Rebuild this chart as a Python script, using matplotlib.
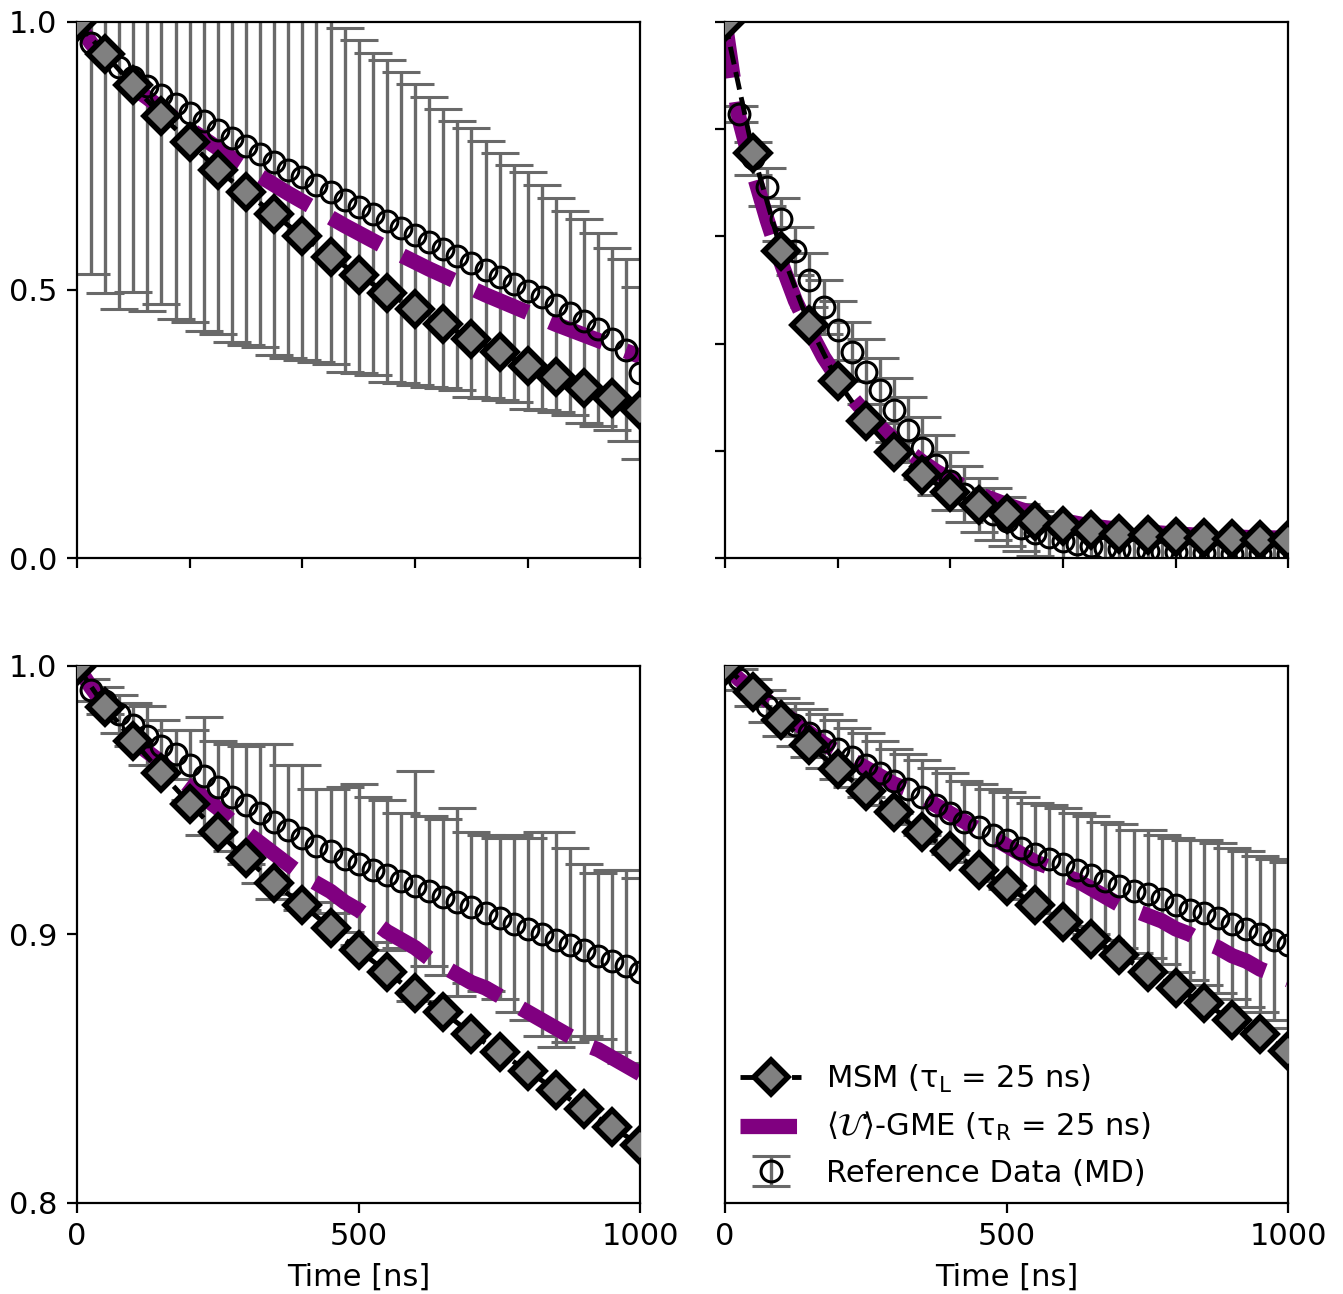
import numpy as np
import matplotlib
matplotlib.use("Agg")
import matplotlib.pyplot as plt

# time grids [ns]
t_msm = np.arange(0, 1001, 50)
t_ref = np.arange(25, 1001, 25)
t_gme = np.arange(0, 1001, 25)

# top left
msm_tl = [1.0, 0.939, 0.881, 0.825, 0.775, 0.724, 0.682, 0.641, 0.600, 0.562, 0.527,
          0.495, 0.464, 0.436, 0.408, 0.384, 0.359, 0.337, 0.317, 0.298, 0.277]
gme_tl = [1.000, 0.960, 0.930, 0.900, 0.877, 0.858, 0.838, 0.818, 0.800, 0.782, 0.764,
          0.746, 0.729, 0.712, 0.696, 0.680, 0.665, 0.650, 0.635, 0.620, 0.606,
          0.592, 0.578, 0.565, 0.552, 0.539, 0.527, 0.515, 0.503, 0.491, 0.480,
          0.469, 0.458, 0.447, 0.436, 0.426, 0.416, 0.406, 0.396, 0.386, 0.376]
ref_tl = [0.960, 0.935, 0.915, 0.897, 0.880, 0.863, 0.846, 0.830, 0.814, 0.798,
          0.783, 0.768, 0.753, 0.738, 0.724, 0.710, 0.696, 0.682, 0.668, 0.655,
          0.642, 0.629, 0.616, 0.603, 0.590, 0.577, 0.564, 0.551, 0.538, 0.525,
          0.512, 0.499, 0.486, 0.472, 0.458, 0.443, 0.427, 0.409, 0.388, 0.345]
err_tl = [0.43, 0.44, 0.45, 0.40, 0.42, 0.39, 0.40, 0.39, 0.39, 0.38,
          0.38, 0.37, 0.36, 0.36, 0.35, 0.34, 0.33, 0.32, 0.32, 0.31,
          0.30, 0.30, 0.29, 0.28, 0.27, 0.26, 0.25, 0.25, 0.24, 0.23,
          0.22, 0.22, 0.21, 0.20, 0.19, 0.19, 0.18, 0.17, 0.17, 0.16]

# top right
msm_tr = [1.0, 0.755, 0.572, 0.434, 0.330, 0.255, 0.198, 0.155, 0.123, 0.100, 0.082,
          0.070, 0.060, 0.052, 0.046, 0.043, 0.040, 0.038, 0.036, 0.035, 0.034]
gme_tr = [1.000, 0.820, 0.720, 0.630, 0.550, 0.480, 0.425, 0.375, 0.335, 0.300, 0.270,
          0.245, 0.222, 0.200, 0.180, 0.162, 0.147, 0.133, 0.120, 0.110, 0.100,
          0.091, 0.083, 0.076, 0.070, 0.065, 0.060, 0.057, 0.054, 0.051, 0.049,
          0.047, 0.045, 0.044, 0.042, 0.041, 0.040, 0.039, 0.038, 0.038, 0.037]
ref_tr = [0.828, 0.745, 0.692, 0.632, 0.572, 0.518, 0.468, 0.425, 0.385, 0.348,
          0.313, 0.276, 0.240, 0.206, 0.174, 0.145, 0.120, 0.100, 0.083, 0.069,
          0.057, 0.047, 0.039, 0.032, 0.027, 0.023, 0.020, 0.017, 0.015, 0.013,
          0.012, 0.011, 0.010, 0.010, 0.009, 0.009, 0.008, 0.008, 0.008, 0.008]
err_tr = [0.015, 0.030, 0.035, 0.040, 0.045, 0.050, 0.050, 0.055, 0.055, 0.060,
          0.060, 0.060, 0.060, 0.058, 0.056, 0.054, 0.052, 0.050, 0.048, 0.046,
          0.044, 0.042, 0.040, 0.038, 0.036, 0.034, 0.033, 0.032, 0.031, 0.030,
          0.029, 0.028, 0.028, 0.027, 0.027, 0.026, 0.026, 0.026, 0.025, 0.025]

# bottom left
msm_bl = [1.0, 0.9847, 0.972, 0.960, 0.9487, 0.938, 0.9284, 0.919, 0.911, 0.9023, 0.894,
          0.886, 0.878, 0.871, 0.863, 0.856, 0.849, 0.842, 0.835, 0.828, 0.8215]
gme_bl = [1.000, 0.992, 0.985, 0.978, 0.972, 0.968, 0.964, 0.959, 0.955, 0.951, 0.947,
          0.942, 0.938, 0.934, 0.930, 0.926, 0.922, 0.919, 0.916, 0.912, 0.909,
          0.905, 0.901, 0.898, 0.895, 0.891, 0.888, 0.885, 0.882, 0.880, 0.877,
          0.874, 0.871, 0.868, 0.865, 0.862, 0.859, 0.857, 0.854, 0.851, 0.848]
ref_bl = [0.991, 0.987, 0.982, 0.978, 0.974, 0.970, 0.967, 0.963, 0.959, 0.955,
          0.951, 0.948, 0.945, 0.942, 0.939, 0.936, 0.933, 0.931, 0.928, 0.926,
          0.924, 0.922, 0.920, 0.918, 0.916, 0.914, 0.912, 0.910, 0.908, 0.906,
          0.904, 0.902, 0.900, 0.898, 0.896, 0.894, 0.892, 0.890, 0.888, 0.886]
err_bl = [0.004, 0.005, 0.007, 0.008, 0.011, 0.010, 0.009, 0.013, 0.022, 0.017,
          0.020, 0.022, 0.026, 0.029, 0.024, 0.027, 0.021, 0.023, 0.027, 0.030,
          0.027, 0.028, 0.025, 0.043, 0.028, 0.029, 0.035, 0.028, 0.029, 0.030,
          0.033, 0.034, 0.038, 0.040, 0.036, 0.032, 0.031, 0.034, 0.036, 0.035]

# bottom right
msm_br = [1.0, 0.9902, 0.980, 0.9704, 0.9615, 0.9533, 0.9456, 0.938, 0.931, 0.9241, 0.9179,
          0.911, 0.9047, 0.8984, 0.8922, 0.886, 0.8798, 0.8743, 0.868, 0.8627, 0.8565]
gme_br = [1.000, 0.995, 0.991, 0.987, 0.983, 0.979, 0.975, 0.971, 0.968, 0.965, 0.962,
          0.959, 0.956, 0.954, 0.951, 0.948, 0.945, 0.942, 0.939, 0.936, 0.933,
          0.930, 0.927, 0.925, 0.922, 0.920, 0.917, 0.914, 0.911, 0.909, 0.907,
          0.905, 0.902, 0.900, 0.897, 0.895, 0.892, 0.890, 0.887, 0.885, 0.883]
ref_br = [0.995, 0.990, 0.985, 0.981, 0.978, 0.975, 0.972, 0.969, 0.966, 0.963,
          0.960, 0.957, 0.954, 0.951, 0.948, 0.945, 0.942, 0.940, 0.937, 0.935,
          0.932, 0.930, 0.928, 0.926, 0.924, 0.922, 0.920, 0.918, 0.916, 0.915,
          0.913, 0.911, 0.909, 0.908, 0.906, 0.904, 0.902, 0.900, 0.898, 0.896]
err_br = [0.004, 0.005, 0.006, 0.007, 0.008, 0.009, 0.010, 0.011, 0.011, 0.012,
          0.012, 0.012, 0.013, 0.014, 0.014, 0.015, 0.015, 0.016, 0.017, 0.018,
          0.019, 0.019, 0.020, 0.021, 0.021, 0.022, 0.022, 0.023, 0.023, 0.024,
          0.024, 0.025, 0.026, 0.027, 0.028, 0.028, 0.029, 0.029, 0.030, 0.031]

msm_label = "MSM (τ$_\\mathrm{L}$ = 25 ns)"
gme_label = "$\\langle\\mathcal{U}\\rangle$-GME (τ$_\\mathrm{R}$ = 25 ns)"
ref_label = "Reference Data (MD)"


# 한 패널 그리기
def draw_panel(ax, msm, gme, ref, err):
    eb = ax.errorbar(t_ref, ref, yerr=err, fmt="o", ms=7.5, mfc="none", mec="k", mew=1.1,
                     ecolor="dimgray", elinewidth=1.2, capsize=7, capthick=1.2,
                     zorder=3, label=ref_label)
    # error bars below the purple line, circles above it
    for cap in eb[1]:
        cap.set_zorder(1.5)
    for bar in eb[2]:
        bar.set_zorder(1.5)
    g, = ax.plot(t_gme, gme, "--", color="purple", lw=5.5, zorder=2.5, label=gme_label)
    m, = ax.plot(t_msm, msm, "--", color="k", lw=1.75, marker="D", ms=8.5, mfc="gray",
                 mec="k", mew=2.0, zorder=4, label=msm_label)
    ax.set_xlim(0, 1000)
    return m, g, eb


def main():
    plt.rcParams["font.size"] = 11
    fig = plt.figure(figsize=(1343 / 200, 1294 / 200), dpi=200)

    w, h = 0.4196, 0.4148
    ax_tl = fig.add_axes([0.0573, 0.5685, w, h])
    ax_tr = fig.add_axes([0.5398, 0.5685, w, h])
    ax_bl = fig.add_axes([0.0573, 0.0706, w, h])
    ax_br = fig.add_axes([0.5398, 0.0706, w, h])

    draw_panel(ax_tl, msm_tl, gme_tl, ref_tl, err_tl)
    draw_panel(ax_tr, msm_tr, gme_tr, ref_tr, err_tr)
    draw_panel(ax_bl, msm_bl, gme_bl, ref_bl, err_bl)
    handles = draw_panel(ax_br, msm_br, gme_br, ref_br, err_br)

    # top row
    for ax in (ax_tl, ax_tr):
        ax.set_ylim(0, 1)
        ax.set_xticks(np.arange(0, 1001, 200))
        ax.tick_params(labelbottom=False)
    ax_tl.set_yticks([0, 0.5, 1.0])
    ax_tr.set_yticks(np.arange(0, 1.01, 0.2))
    ax_tr.tick_params(labelleft=False)

    # bottom row
    for ax in (ax_bl, ax_br):
        ax.set_ylim(0.8, 1.0)
        ax.set_xticks([0, 500, 1000])
        ax.set_xlabel("Time [ns]")
    ax_bl.set_yticks([0.8, 0.9, 1.0])
    ax_br.set_yticks([])

    ax_br.legend(handles, [msm_label, gme_label, ref_label], loc="lower left",
                 frameon=False, borderaxespad=0.0, bbox_to_anchor=(0.005, 0.005))

    fig.savefig("out.png", dpi=200)


if __name__ == "__main__":
    main()
